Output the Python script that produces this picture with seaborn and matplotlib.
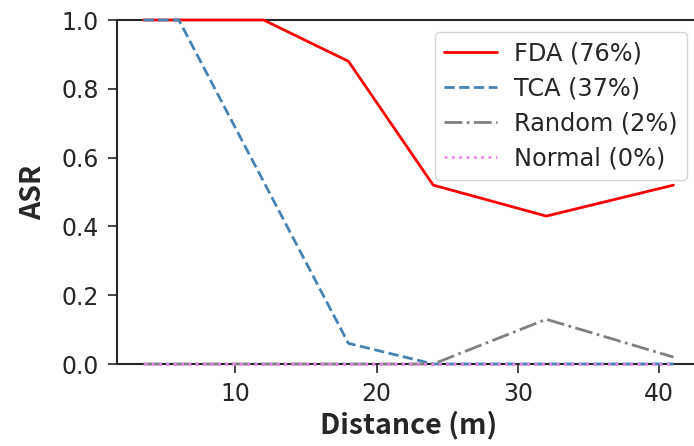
import matplotlib
matplotlib.use("Agg")
import matplotlib.pyplot as plt
from matplotlib.font_manager import FontProperties
import seaborn as sns
import pandas as pd

distance = [3.5, 6, 12, 18, 24, 32, 41]
fda = [1.0, 1.0, 1.0, 0.88, 0.52, 0.43, 0.52]
tca = [1.0, 1.0, 0.53, 0.06, 0.0, 0.0, 0.0]
rnd = [0.0, 0.0, 0.0, 0.0, 0.0, 0.13, 0.02]
normal = [0.0, 0.0, 0.0, 0.0, 0.0, 0.0, 0.0]
labels = ["FDA (76%)", "TCA (37%)", "Random (2%)", "Normal (0%)"]

sns.set_style("ticks")
plt.rcParams['font.family'] = ['DejaVu Sans']

fig = plt.figure(figsize=(6.94, 4.46), dpi=100)
ax = fig.add_axes([117/694, (446-364)/446, 583/694, 344/446])

series = [fda, tca, rnd, normal]
colors = ["red", "steelblue", "gray", "violet"]
styles = ["-", "--", "-.", ":"]
for vals, lab, c, ls in zip(series, labels, colors, styles):
    df = pd.DataFrame({"Distance": distance, "ASR": vals})
    sns.lineplot(data=df, x="Distance", y="ASR", ax=ax, color=c,
                 linestyle=ls, linewidth=2, label=lab, clip_on=False, zorder=3)

ax.set_ylim(0, 1.0)
ax.set_xticks([10, 20, 30, 40])
ax.set_yticks([0.0, 0.2, 0.4, 0.6, 0.8, 1.0])
ax.tick_params(labelsize=17, length=6.5, width=1.2, pad=6.5)
for lbl in ax.get_xticklabels() + ax.get_yticklabels():
    lbl.set_fontfamily('DejaVu Sans')
for s in ax.spines.values():
    s.set_linewidth(1.5)
lab_font = dict(family=['Noto Sans CJK SC', 'DejaVu Sans'], fontsize=20.5, fontweight='bold')
ax.set_xlabel("Distance (m)", labelpad=3.5, **lab_font)
ax.set_ylabel("ASR", labelpad=10, **lab_font)
ax.legend(loc="upper right", bbox_to_anchor=(0.978, 0.965), borderaxespad=0,
          prop=FontProperties(family='DejaVu Sans', size=17.3),
          handlelength=2.2, handletextpad=0.7, labelspacing=0.45, frameon=True)

fig.savefig("out.png", dpi=100)
